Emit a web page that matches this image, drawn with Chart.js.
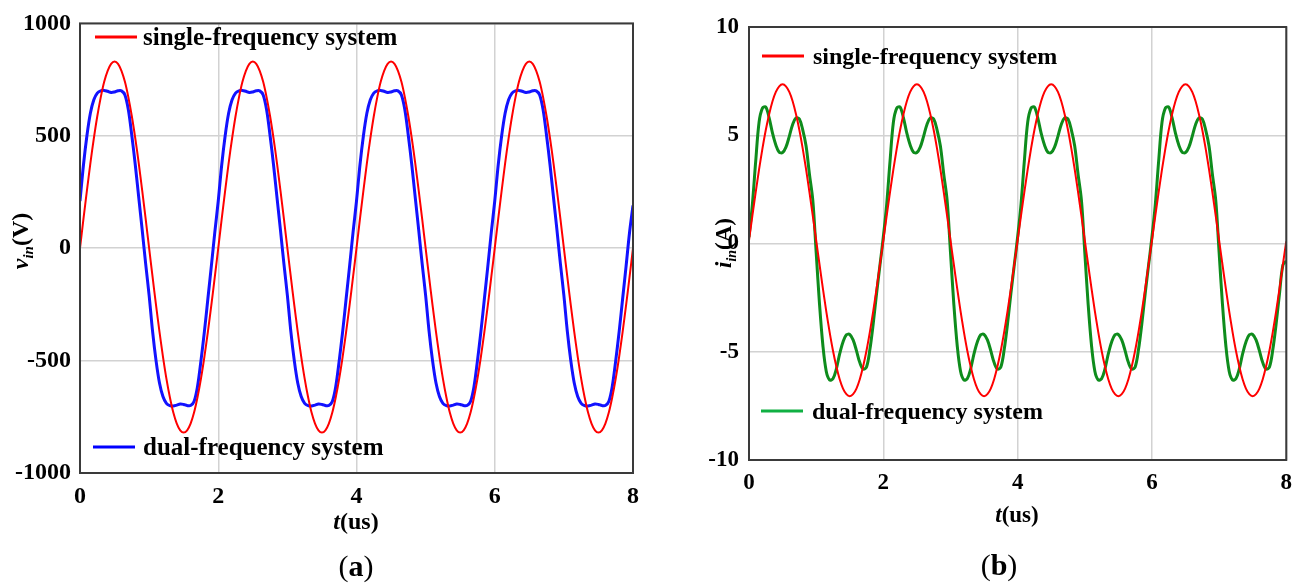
<!DOCTYPE html>
<html>
<head>
<meta charset="utf-8">
<title>Input voltage and current</title>
<script src="https://cdn.jsdelivr.net/npm/chart.js@4.4.1/dist/chart.umd.min.js"></script>
<style>
  html, body { margin: 0; padding: 0; background: #fff; }
  .panel { position: absolute; top: 0; height: 586px; }
  #panelA { left: 0; width: 660px; }
  #panelB { left: 660px; width: 641px; }
</style>
</head>
<body>
<div class="panel" id="panelA"><canvas id="chartA"></canvas></div>
<div class="panel" id="panelB"><canvas id="chartB"></canvas></div>
<script>
// sample instants, us
const timeUs = [
  0, 0.05, 0.1, 0.15, 0.2, 0.25, 0.3, 0.35, 0.4, 0.45, 0.5, 0.55, 0.6, 0.65, 0.7, 0.75, 0.8, 0.85, 0.9, 0.95,
  1, 1.05, 1.1, 1.15, 1.2, 1.25, 1.3, 1.35, 1.4, 1.45, 1.5, 1.55, 1.6, 1.65, 1.7, 1.75, 1.8, 1.85, 1.9, 1.95,
  2, 2.05, 2.1, 2.15, 2.2, 2.25, 2.3, 2.35, 2.4, 2.45, 2.5, 2.55, 2.6, 2.65, 2.7, 2.75, 2.8, 2.85, 2.9, 2.95,
  3, 3.05, 3.1, 3.15, 3.2, 3.25, 3.3, 3.35, 3.4, 3.45, 3.5, 3.55, 3.6, 3.65, 3.7, 3.75, 3.8, 3.85, 3.9, 3.95,
  4, 4.05, 4.1, 4.15, 4.2, 4.25, 4.3, 4.35, 4.4, 4.45, 4.5, 4.55, 4.6, 4.65, 4.7, 4.75, 4.8, 4.85, 4.9, 4.95,
  5, 5.05, 5.1, 5.15, 5.2, 5.25, 5.3, 5.35, 5.4, 5.45, 5.5, 5.55, 5.6, 5.65, 5.7, 5.75, 5.8, 5.85, 5.9, 5.95,
  6, 6.05, 6.1, 6.15, 6.2, 6.25, 6.3, 6.35, 6.4, 6.45, 6.5, 6.55, 6.6, 6.65, 6.7, 6.75, 6.8, 6.85, 6.9, 6.95,
  7, 7.05, 7.1, 7.15, 7.2, 7.25, 7.3, 7.35, 7.4, 7.45, 7.5, 7.55, 7.6, 7.65, 7.7, 7.75, 7.8, 7.85, 7.9, 7.95,
  8
];

// v_in (V), single-frequency system
const vinSingle = [
  0, 130, 256, 377, 488, 587, 671, 740, 789, 820, 830, 820, 789, 740, 671, 587, 488, 377, 256, 130,
  0, -128, -253, -372, -482, -580, -663, -731, -780, -810, -820, -810, -780, -731, -663, -580, -482, -372, -253, -128,
  0, 130, 256, 377, 488, 587, 671, 740, 789, 820, 830, 820, 789, 740, 671, 587, 488, 377, 256, 130,
  0, -128, -253, -372, -482, -580, -663, -731, -780, -810, -820, -810, -780, -731, -663, -580, -482, -372, -253, -128,
  0, 130, 256, 377, 488, 587, 671, 740, 789, 820, 830, 820, 789, 740, 671, 587, 488, 377, 256, 130,
  0, -128, -253, -372, -482, -580, -663, -731, -780, -810, -820, -810, -780, -731, -663, -580, -482, -372, -253, -128,
  0, 130, 256, 377, 488, 587, 671, 740, 789, 820, 830, 820, 789, 740, 671, 587, 488, 377, 256, 130,
  0, -128, -253, -372, -482, -580, -663, -731, -780, -810, -820, -810, -780, -731, -663, -580, -482, -372, -253, -128,
  0
];

// v_in (V), dual-frequency system
const vinDual = [
  210, 370, 500, 600, 660, 690, 700, 702, 698, 693, 695, 700, 700, 682, 615, 500, 370, 225, 80, -70,
  -210, -370, -500, -600, -660, -690, -700, -702, -698, -693, -695, -700, -700, -682, -615, -500, -370, -225, -80, 70,
  210, 370, 500, 600, 660, 690, 700, 702, 698, 693, 695, 700, 700, 682, 615, 500, 370, 225, 80, -70,
  -210, -370, -500, -600, -660, -690, -700, -702, -698, -693, -695, -700, -700, -682, -615, -500, -370, -225, -80, 70,
  210, 370, 500, 600, 660, 690, 700, 702, 698, 693, 695, 700, 700, 682, 615, 500, 370, 225, 80, -70,
  -210, -370, -500, -600, -660, -690, -700, -702, -698, -693, -695, -700, -700, -682, -615, -500, -370, -225, -80, 70,
  210, 370, 500, 600, 660, 690, 700, 702, 698, 693, 695, 700, 700, 682, 615, 500, 370, 225, 80, -70,
  -210, -370, -500, -600, -660, -690, -700, -702, -698, -693, -695, -700, -700, -682, -615, -500, -370, -225, -80, 70,
  190
];

// i_in (A), single-frequency system
const iinSingle = [
  0.15, 1.28, 2.37, 3.42, 4.38, 5.24, 5.97, 6.57, 7.0, 7.26, 7.35, 7.26, 7.0, 6.57, 5.97, 5.24, 4.38, 3.42, 2.37, 1.28,
  0.15, -0.97, -2.07, -3.12, -4.08, -4.94, -5.67, -6.27, -6.7, -6.96, -7.05, -6.96, -6.7, -6.27, -5.67, -4.94, -4.08, -3.12, -2.07, -0.97,
  0.15, 1.28, 2.37, 3.42, 4.38, 5.24, 5.97, 6.57, 7.0, 7.26, 7.35, 7.26, 7.0, 6.57, 5.97, 5.24, 4.38, 3.42, 2.37, 1.28,
  0.15, -0.97, -2.07, -3.12, -4.08, -4.94, -5.67, -6.27, -6.7, -6.96, -7.05, -6.96, -6.7, -6.27, -5.67, -4.94, -4.08, -3.12, -2.07, -0.97,
  0.15, 1.28, 2.37, 3.42, 4.38, 5.24, 5.97, 6.57, 7.0, 7.26, 7.35, 7.26, 7.0, 6.57, 5.97, 5.24, 4.38, 3.42, 2.37, 1.28,
  0.15, -0.97, -2.07, -3.12, -4.08, -4.94, -5.67, -6.27, -6.7, -6.96, -7.05, -6.96, -6.7, -6.27, -5.67, -4.94, -4.08, -3.12, -2.07, -0.97,
  0.15, 1.28, 2.37, 3.42, 4.38, 5.24, 5.97, 6.57, 7.0, 7.26, 7.35, 7.26, 7.0, 6.57, 5.97, 5.24, 4.38, 3.42, 2.37, 1.28,
  0.15, -0.97, -2.07, -3.12, -4.08, -4.94, -5.67, -6.27, -6.7, -6.96, -7.05, -6.96, -6.7, -6.27, -5.67, -4.94, -4.08, -3.12, -2.07, -0.97,
  0.1
];

// i_in (A), dual-frequency system
const iinDual = [
  0.3, 1.8, 3.8, 5.6, 6.25, 6.3, 5.8, 5.1, 4.55, 4.22, 4.2, 4.45, 4.95, 5.5, 5.8, 5.75, 5.25, 4.5, 3.2, 2.0,
  -0.4, -2.8, -4.7, -5.9, -6.3, -6.25, -5.8, -5.1, -4.55, -4.22, -4.2, -4.45, -4.95, -5.5, -5.8, -5.7, -4.9, -3.7, -2.3, -1.0,
  0.3, 1.8, 3.8, 5.6, 6.25, 6.3, 5.8, 5.1, 4.55, 4.22, 4.2, 4.45, 4.95, 5.5, 5.8, 5.75, 5.25, 4.5, 3.2, 2.0,
  -0.4, -2.8, -4.7, -5.9, -6.3, -6.25, -5.8, -5.1, -4.55, -4.22, -4.2, -4.45, -4.95, -5.5, -5.8, -5.7, -4.9, -3.7, -2.3, -1.0,
  0.3, 1.8, 3.8, 5.6, 6.25, 6.3, 5.8, 5.1, 4.55, 4.22, 4.2, 4.45, 4.95, 5.5, 5.8, 5.75, 5.25, 4.5, 3.2, 2.0,
  -0.4, -2.8, -4.7, -5.9, -6.3, -6.25, -5.8, -5.1, -4.55, -4.22, -4.2, -4.45, -4.95, -5.5, -5.8, -5.7, -4.9, -3.7, -2.3, -1.0,
  0.3, 1.8, 3.8, 5.6, 6.25, 6.3, 5.8, 5.1, 4.55, 4.22, 4.2, 4.45, 4.95, 5.5, 5.8, 5.75, 5.25, 4.5, 3.2, 2.0,
  -0.4, -2.8, -4.7, -5.9, -6.3, -6.25, -5.8, -5.1, -4.55, -4.22, -4.2, -4.45, -4.95, -5.5, -5.8, -5.7, -4.9, -3.7, -2.3, -1.0,
  -0.8
];

const timeTicks = [0, 2, 4, 6, 8];
const vinTicks = [-1000, -500, 0, 500, 1000];
const iinTicks = [-10, -5, 0, 5, 10];

const seriesNames = ['single-frequency system', 'dual-frequency system'];

const serif = '"Liberation Serif", "Times New Roman", serif';

function points(values) {
  return timeUs.map((t, i) => ({ x: t, y: values[i] }));
}

// text made of several differently styled pieces, laid out left to right
function runsWidth(ctx, runs) {
  let w = 0;
  runs.forEach(r => { ctx.font = r.font; w += ctx.measureText(r.text).width; });
  return w;
}
function drawRuns(ctx, runs, x, y) {
  runs.forEach(r => {
    ctx.font = r.font;
    ctx.fillText(r.text, x, y + (r.dy || 0));
    x += ctx.measureText(r.text).width;
  });
}

// frame, in-plot legend, axis titles and panel caption
const figureDecor = {
  id: 'figureDecor',
  afterDraw(chart, args, opts) {
    const ctx = chart.ctx;
    const a = chart.chartArea;
    ctx.save();
    ctx.strokeStyle = '#3a3a3a';
    ctx.lineWidth = 2;
    ctx.strokeRect(a.left, a.top, a.right - a.left, a.bottom - a.top);

    ctx.textAlign = 'left';
    ctx.textBaseline = 'alphabetic';
    ctx.fillStyle = '#000';
    opts.legend.forEach(item => {
      ctx.strokeStyle = item.color;
      ctx.lineWidth = 3;
      ctx.beginPath();
      ctx.moveTo(item.x, item.y);
      ctx.lineTo(item.x + 42, item.y);
      ctx.stroke();
      ctx.font = `bold ${opts.legendSize}px ${serif}`;
      ctx.fillText(item.text, item.x + item.gap, item.y + 8);
    });

    // x title
    const fs = opts.fontSize;
    const xRuns = [
      { text: 't', font: `italic bold ${fs}px ${serif}` },
      { text: '(us)', font: `bold ${fs}px ${serif}` }
    ];
    drawRuns(ctx, xRuns, opts.xTitle.x - runsWidth(ctx, xRuns) / 2, opts.xTitle.y);

    // y title, rotated, with subscript
    const yRuns = [
      { text: opts.yTitle.symbol, font: `italic bold ${fs}px ${serif}` },
      { text: 'in', font: `italic bold ${Math.round(fs * 0.62)}px ${serif}`, dy: 5 },
      { text: opts.yTitle.unit, font: `bold ${fs}px ${serif}` }
    ];
    ctx.save();
    ctx.translate(opts.yTitle.x, opts.yTitle.y);
    ctx.rotate(-Math.PI / 2);
    drawRuns(ctx, yRuns, -runsWidth(ctx, yRuns) / 2, 8);
    ctx.restore();

    // caption (a)/(b)
    const cRuns = [
      { text: '(', font: `30px ${serif}` },
      { text: opts.caption.letter, font: `bold 30px ${serif}` },
      { text: ')', font: `30px ${serif}` }
    ];
    drawRuns(ctx, cRuns, opts.caption.x - runsWidth(ctx, cRuns) / 2, opts.caption.y);
    ctx.restore();
  }
};

function makeOptions(cfg) {
  const tickFont = { family: serif, size: cfg.fontSize, weight: 'bold' };
  return {
    responsive: true,
    maintainAspectRatio: false,
    animation: false,
    layout: { padding: { left: 0, top: cfg.top, right: cfg.right, bottom: 0 } },
    elements: { point: { radius: 0 }, line: { tension: 0.35 } },
    plugins: {
      legend: { display: false },
      tooltip: { enabled: false },
      figureDecor: cfg.decor
    },
    scales: {
      x: {
        type: 'linear',
        min: 0,
        max: 8,
        afterBuildTicks: s => { s.ticks = timeTicks.map(v => ({ value: v })); },
        ticks: { font: tickFont, color: '#000', padding: cfg.xPad, maxRotation: 0, callback: v => String(v) },
        grid: { color: '#d2d2d2', lineWidth: 1.5, drawTicks: false },
        border: { display: false },
        afterFit: s => { s.height = cfg.xHeight; }
      },
      y: {
        type: 'linear',
        min: cfg.yTicks[0],
        max: cfg.yTicks[cfg.yTicks.length - 1],
        afterBuildTicks: s => { s.ticks = cfg.yTicks.map(v => ({ value: v })); },
        ticks: { font: tickFont, color: '#000', padding: cfg.yPad, callback: v => String(v) },
        grid: { color: '#d2d2d2', lineWidth: 1.5, drawTicks: false },
        border: { display: false },
        afterFit: s => { s.width = cfg.yWidth; }
      }
    }
  };
}

new Chart(document.getElementById('chartA'), {
  type: 'line',
  data: {
    datasets: [
      { label: seriesNames[0], data: points(vinSingle), borderColor: '#ff0000', borderWidth: 2 },
      { label: seriesNames[1], data: points(vinDual), borderColor: '#1212ff', borderWidth: 3 }
    ]
  },
  options: makeOptions({
    fontSize: 24, top: 19, right: 27, xHeight: 113, yWidth: 80, xPad: 9, yPad: 9,
    yTicks: vinTicks,
    decor: {
      fontSize: 24,
      legendSize: 25,
      legend: [
        { text: seriesNames[0], color: '#ff0000', x: 95, y: 37, gap: 48 },
        { text: seriesNames[1], color: '#0000ff', x: 93, y: 447, gap: 50 }
      ],
      xTitle: { x: 356, y: 529 },
      yTitle: { x: 20, y: 241, symbol: 'v', unit: '(V)' },
      caption: { letter: 'a', x: 356, y: 576 }
    }
  }),
  plugins: [figureDecor]
});

new Chart(document.getElementById('chartB'), {
  type: 'line',
  data: {
    datasets: [
      { label: seriesNames[0], data: points(iinSingle), borderColor: '#ff0000', borderWidth: 2 },
      { label: seriesNames[1], data: points(iinDual), borderColor: '#0e8c1c', borderWidth: 3 }
    ]
  },
  options: makeOptions({
    fontSize: 23, top: 27, right: 13, xHeight: 126, yWidth: 89, xPad: 9, yPad: 10,
    yTicks: iinTicks,
    decor: {
      fontSize: 23,
      legendSize: 24,
      legend: [
        { text: seriesNames[0], color: '#ff0000', x: 102, y: 56, gap: 51 },
        { text: seriesNames[1], color: '#10b043', x: 101, y: 411, gap: 51 }
      ],
      xTitle: { x: 357, y: 522 },
      yTitle: { x: 63, y: 243, symbol: 'i', unit: '(A)' },
      caption: { letter: 'b', x: 339, y: 575 }
    }
  }),
  plugins: [figureDecor]
});
</script>
</body>
</html>
